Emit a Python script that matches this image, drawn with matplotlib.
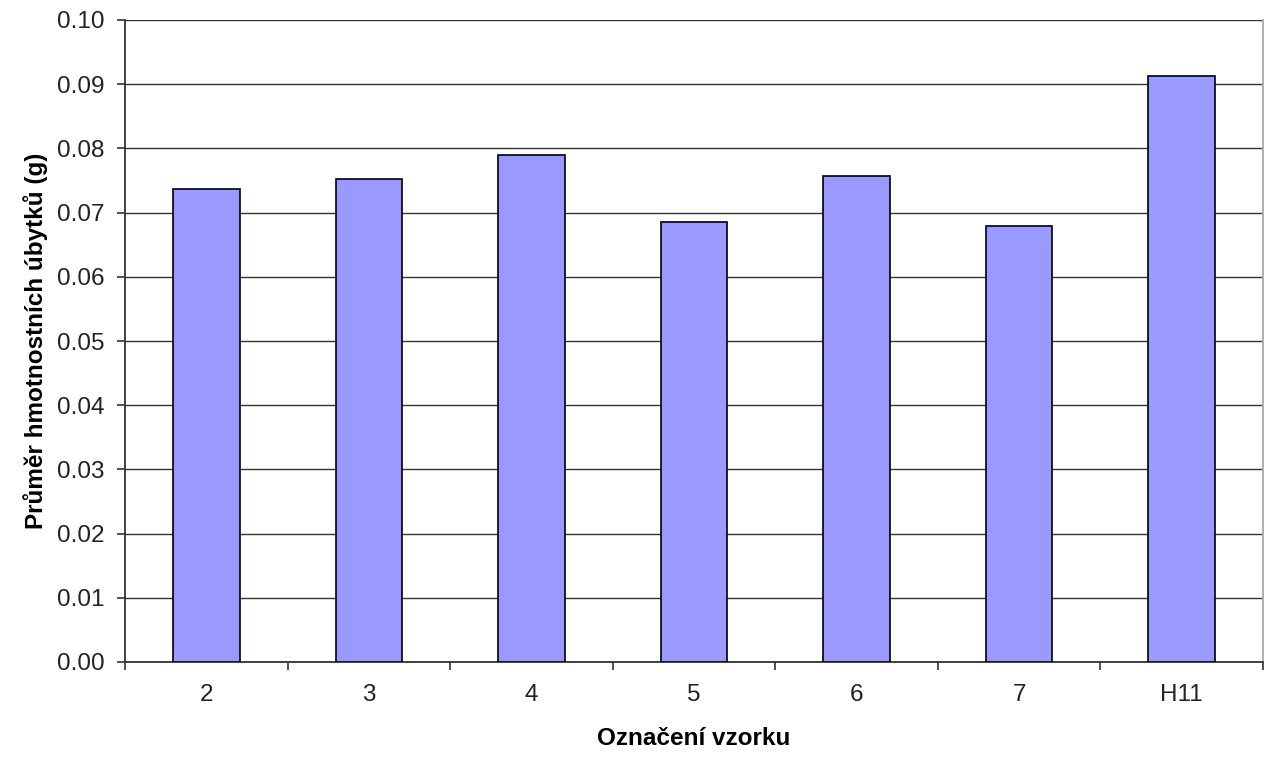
import matplotlib
matplotlib.use("Agg")
import matplotlib.pyplot as plt
import numpy as np

categories = ["2", "3", "4", "5", "6", "7", "H11"]
values = [0.0736, 0.0753, 0.0789, 0.0686, 0.0757, 0.0679, 0.0913]
y_ticks = [0.00, 0.01, 0.02, 0.03, 0.04, 0.05, 0.06, 0.07, 0.08, 0.09, 0.10]

plt.rcParams['font.family'] = ['Liberation Sans', 'DejaVu Sans']

fig = plt.figure(figsize=(12.71, 7.57), dpi=100)
ax = fig.add_axes([125/1271, 1 - 662/757, (1263-125)/1271, (662-20)/757])

x = np.arange(len(categories))
ax.bar(x, values, width=0.41, color="#9999FF", edgecolor="black", linewidth=1.2, zorder=3)

ax.set_xlim(-0.5, len(categories) - 0.5)
ax.set_ylim(0, 0.10)
ax.set_yticks(y_ticks)
ax.set_yticklabels([f"{v:.2f}" for v in y_ticks])
ax.yaxis.grid(True, color="#333333", linewidth=1.0, zorder=0)

ax.set_xticks(x)
ax.set_xticklabels(categories)
ax.set_xticks(np.arange(len(categories) + 1) - 0.5, minor=True)
ax.tick_params(axis='x', which='major', length=0, pad=16, labelsize=17.5, labelcolor="#222222")
ax.tick_params(axis='x', which='minor', length=6, width=1.2, direction='out', color="#333333")
ax.tick_params(axis='y', length=6, width=1.2, direction='out', labelsize=17.5, pad=9,
               color="#333333", labelcolor="#222222")

for s in ["left", "bottom"]:
    ax.spines[s].set_color("#333333")
    ax.spines[s].set_linewidth(1.3)
ax.spines["top"].set_visible(False)
ax.spines["right"].set_color("#aaaaaa")
ax.spines["right"].set_linewidth(1.3)

ax.set_xlabel("Označení vzorku", fontsize=17.5, fontweight="bold", labelpad=15)
ax.set_ylabel("Průměr hmotnostních úbytků (g)", fontsize=17.5, fontweight="bold")
ax.yaxis.set_label_coords((48 - 125) / 1138, 0.5)

fig.savefig("out.png", dpi=100)
